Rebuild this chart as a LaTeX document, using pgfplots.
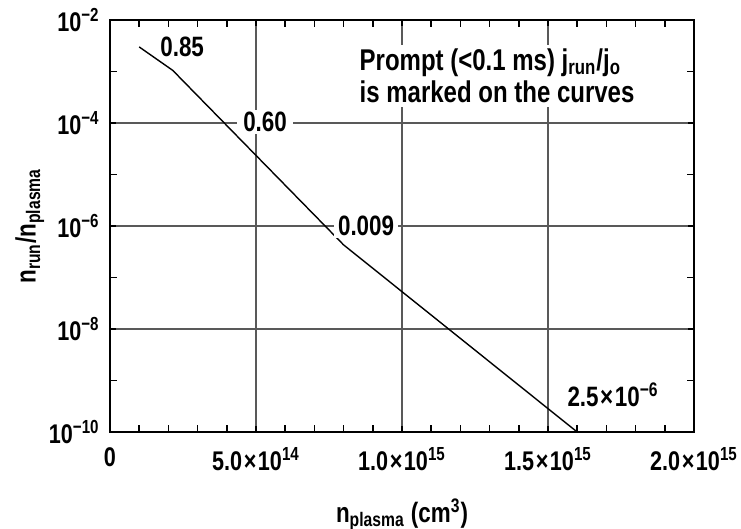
\documentclass[border=0pt]{standalone}
\usepackage{fontspec}
\setmainfont{Liberation Sans}[FakeStretch=0.8]
\usepackage{pgfplots}
\pgfplotsset{compat=1.18}
\newcommand{\tm}{\kern0.8pt×\kern0.8pt}
\begin{document}
\begin{tikzpicture}[font=\fontsize{13.5}{15.5}\selectfont\bfseries]
\begin{axis}[
  scale only axis, width=292pt, height=206pt,
  xmin=0, xmax=2e15, ymode=log, ymin=1e-10, ymax=1e-2,
  clip=false,
  scaled x ticks=false,
  xtick={0,5e14,1e15,1.5e15,2e15},
  xticklabels={0, 5.0\tm 10\textsuperscript{14}, 1.0\tm 10\textsuperscript{15}, 1.5\tm 10\textsuperscript{15}, 2.0\tm 10\textsuperscript{15}},
  minor xtick={1e14,2e14,3e14,4e14,6e14,7e14,8e14,9e14,1.1e15,1.2e15,1.3e15,1.4e15,1.6e15,1.7e15,1.8e15,1.9e15},
  ytick={1e-10,1e-8,1e-6,1e-4,1e-2},
  yticklabels={10\textsuperscript{−10},10\textsuperscript{−8},10\textsuperscript{−6},10\textsuperscript{−4},10\textsuperscript{−2}},
  minor ytick={1e-9,1e-7,1e-5,1e-3},
  grid=major,
  major grid style={black!65, line width=0.65pt},
  tick align=inside,
  major tick length=3pt, minor tick length=3.5pt,
  tick style={black, line width=0.8pt},
  axis line style={line width=1.1pt},
  xticklabel style={anchor=north, inner sep=0pt, yshift=-7.5pt},
  yticklabel style={anchor=east, inner sep=0pt, xshift=-5pt},
  xlabel={n\textsubscript{plasma} (cm\textsuperscript{3})},
  ylabel={n\textsubscript{run}/n\textsubscript{plasma}},
  xlabel style={at={([yshift=-33pt]axis description cs:0.5,0)}, anchor=north, inner sep=0pt, font=\fontsize{14}{16}\selectfont\bfseries},
  ylabel style={at={([xshift=-47.5pt]axis description cs:0,0.5)}, anchor=north, inner sep=0pt, font=\fontsize{14}{16}\selectfont\bfseries},
]
\addplot[black, line width=0.7pt] table {
x y
1e14 3e-3
2.15e14 1.05e-3
8e14 4.3e-7
1.6e15 1e-10
};
\node[font=\fontsize{14}{16}\selectfont\bfseries] at (axis cs:2.47e14,3e-3) {0.85};
\node[font=\fontsize{14}{16}\selectfont\bfseries, fill=white, inner xsep=3pt, inner ysep=1pt] at (axis cs:5.31e14,1.05e-4) {0.60};
\node[font=\fontsize{14}{16}\selectfont\bfseries, fill=white, inner xsep=2pt, inner ysep=1pt] at (axis cs:8.77e14,1e-6) {0.009};
\node[font=\fontsize{14}{16}\selectfont\bfseries] at (axis cs:1.723e15,5.25e-10) {2.5\tm 10\textsuperscript{−6}};
\node[font=\fontsize{15}{16}\selectfont\bfseries, fill=white, align=left, anchor=west, inner sep=2pt] at (axis cs:8.4e14,8.35e-4) {Prompt (<0.1 ms) j\textsubscript{run}/j\textsubscript{o}\\is marked on the curves};
\end{axis}
\pgfresetboundingbox
\path (-55pt,-48.5pt) rectangle (315.5pt,216pt);
\end{tikzpicture}
\end{document}
